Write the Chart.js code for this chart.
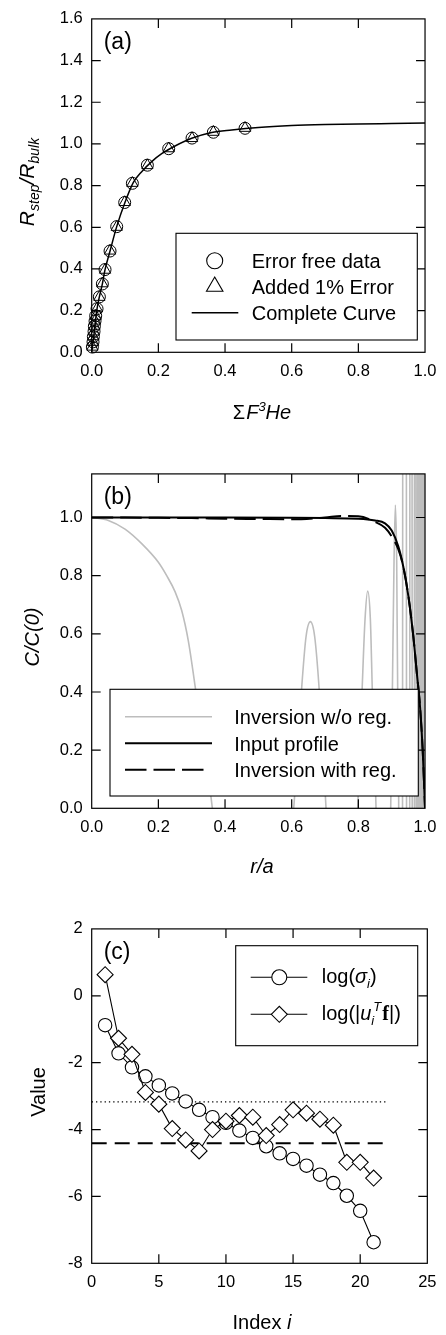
<!DOCTYPE html>
<html><head><meta charset="utf-8">
<script src="https://cdn.jsdelivr.net/npm/chart.js@4/dist/chart.umd.min.js"></script>
<style>
html,body{margin:0;padding:0;background:#fff;}
body{width:446px;height:1335px;position:relative;overflow:hidden;}
canvas{position:absolute;left:0;}
</style></head><body>
<canvas id="ca" width="446" height="455" style="top:0px"></canvas>
<canvas id="cb" width="446" height="455" style="top:455px"></canvas>
<canvas id="cc" width="446" height="425" style="top:910px"></canvas>
<script>
// ---------- Panel (a) ----------
const aTickX = [0, 0.2, 0.4, 0.6, 0.8, 1.0];
const aTickXLabels = ['0.0', '0.2', '0.4', '0.6', '0.8', '1.0'];
const aTickY = [0, 0.2, 0.4, 0.6, 0.8, 1.0, 1.2, 1.4, 1.6];
const aTickYLabels = ['0.0', '0.2', '0.4', '0.6', '0.8', '1.0', '1.2', '1.4', '1.6'];
const aDataX = [0.002, 0.004, 0.005, 0.007, 0.008, 0.010, 0.012, 0.016, 0.023, 0.032, 0.040, 0.055, 0.075, 0.099, 0.122, 0.167, 0.231, 0.301, 0.365, 0.460];
const aErrorFree = [0.025, 0.05, 0.075, 0.10, 0.125, 0.15, 0.175, 0.209, 0.266, 0.328, 0.397, 0.486, 0.603, 0.719, 0.811, 0.898, 0.977, 1.028, 1.056, 1.075];
const aError1 = [0.026, 0.049, 0.076, 0.099, 0.126, 0.151, 0.174, 0.210, 0.265, 0.330, 0.395, 0.487, 0.601, 0.720, 0.812, 0.897, 0.978, 1.027, 1.057, 1.076];
const aCurveX = [0, 0.004, 0.008, 0.012, 0.016, 0.023, 0.032, 0.040, 0.055, 0.075, 0.10, 0.125, 0.15, 0.18, 0.21, 0.25, 0.30, 0.36, 0.42, 0.50, 0.60, 0.70, 0.80, 0.90, 1.0];
const aCurveY = [0, 0.05, 0.10, 0.16, 0.209, 0.266, 0.328, 0.397, 0.486, 0.603, 0.72, 0.815, 0.867, 0.915, 0.953, 0.99, 1.027, 1.055, 1.067, 1.079, 1.088, 1.093, 1.096, 1.098, 1.10];

// ---------- Panel (b) ----------
const bTickX = [0, 0.2, 0.4, 0.6, 0.8, 1.0];
const bTickXLabels = ['0.0', '0.2', '0.4', '0.6', '0.8', '1.0'];
const bTickY = [0, 0.2, 0.4, 0.6, 0.8, 1.0];
const bTickYLabels = ['0.0', '0.2', '0.4', '0.6', '0.8', '1.0'];
const bNoRegX = [0, 0.05, 0.1, 0.15, 0.2, 0.225, 0.25, 0.27, 0.29, 0.309, 0.335, 0.362, 0.42, 0.48, 0.54, 0.606, 0.629, 0.643, 0.656, 0.669, 0.683, 0.703, 0.73, 0.75, 0.775, 0.798, 0.811, 0.82, 0.828, 0.836, 0.842, 0.853, 0.865, 0.875, 0.887, 0.897, 0.902, 0.907, 0.911, 0.915, 0.918, 0.921, 0.926, 0.939, 0.950, 0.958, 0.965, 0.971, 0.976, 0.980, 0.984, 0.987, 0.990, 0.992, 0.994, 0.996, 0.998, 1.0];
const bNoRegY = [1.0, 0.99, 0.96, 0.91, 0.846, 0.80, 0.745, 0.68, 0.575, 0.43, 0.22, 0, -0.7, -1.0, -0.7, 0, 0.40, 0.59, 0.642, 0.59, 0.40, 0, -0.6, -0.8, -0.6, 0, 0.40, 0.65, 0.747, 0.65, 0.40, 0, -0.7, -0.8, -0.6, 0, 0.40, 0.85, 1.043, 0.85, 0.40, 0, -10, 10, -10, 10, -10, 10, -10, 10, -10, 10, -10, 10, -10, 10, -10, 10];
const bInputX = [0, 0.2, 0.4, 0.6, 0.7, 0.8, 0.85, 0.88, 0.90, 0.92, 0.935, 0.95, 0.965, 0.975, 0.985, 0.993, 1.0];
const bInputY = [1.0, 1.0, 1.0, 0.999, 0.998, 0.996, 0.99, 0.98, 0.955, 0.90, 0.83, 0.73, 0.59, 0.47, 0.35, 0.20, 0];
const bRegX = [0, 0.1, 0.2, 0.3, 0.4, 0.5, 0.6, 0.7, 0.75, 0.8, 0.85, 0.88, 0.90, 0.92, 0.935, 0.95, 0.965, 0.975, 0.985, 0.993, 1.0];
const bRegY = [1.0, 1.0, 0.999, 0.998, 0.996, 0.995, 0.994, 1.0, 1.005, 1.004, 0.985, 0.965, 0.935, 0.89, 0.83, 0.73, 0.59, 0.47, 0.35, 0.20, 0];

// ---------- Panel (c) ----------
const cTickX = [0, 5, 10, 15, 20, 25];
const cTickXLabels = ['0', '5', '10', '15', '20', '25'];
const cTickY = [-8, -6, -4, -2, 0, 2];
const cTickYLabels = ['-8', '-6', '-4', '-2', '0', '2'];
const cIndex = [1, 2, 3, 4, 5, 6, 7, 8, 9, 10, 11, 12, 13, 14, 15, 16, 17, 18, 19, 20, 21];
const cLogSigma = [-0.88, -1.72, -2.14, -2.41, -2.68, -2.92, -3.16, -3.41, -3.63, -3.80, -4.03, -4.25, -4.50, -4.71, -4.88, -5.08, -5.35, -5.60, -5.98, -6.43, -7.37];
const cLogUf = [0.63, -1.27, -1.75, -2.89, -3.24, -3.97, -4.31, -4.64, -4.00, -3.75, -3.58, -3.63, -4.18, -3.85, -3.41, -3.51, -3.69, -3.87, -4.98, -4.98, -5.45];
const cDottedX = [0, 22.1];
const cDottedY = [-3.17, -3.17];
const cDashedX = [0, 22.1];
const cDashedY = [-4.41, -4.41];

// ---------- helpers ----------
const SANS = "'Liberation Sans', Arial, Helvetica, sans-serif";
const SERIF = "'Liberation Serif', 'Times New Roman', serif";
const R = s => s + 'px ' + SANS;
const I = s => 'italic ' + s + 'px ' + SANS;
const xy = (xs, ys) => xs.map((x, i) => ({x: x, y: ys[i]}));

function drawRich(ctx, segs, x, y, align, rot) {
  ctx.save();
  ctx.translate(x, y);
  if (rot) ctx.rotate(rot);
  ctx.textBaseline = 'alphabetic';
  ctx.textAlign = 'left';
  let pen = 0; const items = [];
  let maxEnd = 0;
  segs.forEach(s => {
    ctx.font = s.f;
    const w = ctx.measureText(s.t).width;
    const px = pen + (s.dx || 0);
    items.push({s: s, x: px});
    if (!s.noAdv) pen = px + w;
    maxEnd = Math.max(maxEnd, px + w);
  });
  const total = Math.max(pen, maxEnd);
  const off = align === 'center' ? -total / 2 : 0;
  ctx.fillStyle = '#000';
  items.forEach(it => { ctx.font = it.s.f; ctx.fillText(it.s.t, it.x + off, it.s.dy || 0); });
  ctx.restore();
}

function drawSym(ctx, sym, mx, y) {
  ctx.save();
  ctx.strokeStyle = sym.color || '#000';
  ctx.lineWidth = sym.width || 1;
  if (sym.line) {
    ctx.setLineDash(sym.dash || []);
    ctx.beginPath(); ctx.moveTo(sym.line[0], y); ctx.lineTo(sym.line[1], y); ctx.stroke();
    ctx.setLineDash([]);
  }
  ctx.lineWidth = 1.1; ctx.strokeStyle = '#000'; ctx.fillStyle = '#fff';
  const r = sym.r || 8;
  if (sym.marker === 'circle') {
    ctx.beginPath(); ctx.arc(mx, y, r, 0, Math.PI * 2);
    if (sym.fill) ctx.fill(); ctx.stroke();
  } else if (sym.marker === 'triangle') {
    const h = Math.sin(Math.PI / 3) * r;
    ctx.beginPath(); ctx.moveTo(mx, y - r); ctx.lineTo(mx + h, y + r / 2); ctx.lineTo(mx - h, y + r / 2); ctx.closePath();
    if (sym.fill) ctx.fill(); ctx.stroke();
  } else if (sym.marker === 'diamond') {
    ctx.beginPath(); ctx.moveTo(mx - r, y); ctx.lineTo(mx, y - r); ctx.lineTo(mx + r, y); ctx.lineTo(mx, y + r); ctx.closePath();
    if (sym.fill) ctx.fill(); ctx.stroke();
  }
  ctx.restore();
}

function makeDecor(spec) {
  return {
    id: 'decor_' + spec.name,
    afterDatasetsDraw(chart) {
      const ctx = chart.ctx, ca = chart.chartArea, sx = chart.scales.x, sy = chart.scales.y;
      ctx.save();
      // inward tick marks on all four sides
      const TL = 9;
      ctx.strokeStyle = '#000'; ctx.lineWidth = 1.2;
      ctx.beginPath();
      sx.ticks.forEach(t => {
        const p = sx.getPixelForValue(t.value);
        if (p <= ca.left + 1 || p >= ca.right - 1) return;
        ctx.moveTo(p, ca.bottom); ctx.lineTo(p, ca.bottom - TL);
        ctx.moveTo(p, ca.top); ctx.lineTo(p, ca.top + TL);
      });
      sy.ticks.forEach(t => {
        const p = sy.getPixelForValue(t.value);
        if (p <= ca.top + 1 || p >= ca.bottom - 1) return;
        ctx.moveTo(ca.left, p); ctx.lineTo(ca.left + TL, p);
        ctx.moveTo(ca.right, p); ctx.lineTo(ca.right - TL, p);
      });
      ctx.stroke();
      // frame
      ctx.strokeRect(ca.left, ca.top, ca.right - ca.left, ca.bottom - ca.top);
      // legend box
      const L = spec.legend;
      ctx.fillStyle = '#fff';
      ctx.fillRect(L.x1, L.y1, L.x2 - L.x1, L.y2 - L.y1);
      ctx.strokeStyle = '#000'; ctx.lineWidth = 1.1;
      ctx.strokeRect(L.x1, L.y1, L.x2 - L.x1, L.y2 - L.y1);
      L.rows.forEach(row => {
        drawSym(ctx, row.sym, L.mx, row.y);
        drawRich(ctx, row.text, L.tx, row.y + row.base, 'left', 0);
      });
      // panel label
      ctx.fillStyle = '#000'; ctx.font = R(23); ctx.textBaseline = 'alphabetic'; ctx.textAlign = 'left';
      ctx.fillText(spec.label, ca.left + 12, ca.top + 30);
      // axis titles
      drawRich(ctx, spec.xTitle, 262, spec.xTitleY, 'center', 0);
      drawRich(ctx, spec.yTitle, spec.yTitleX, 182, 'center', -Math.PI / 2);
      ctx.restore();
    }
  };
}

function makeChart(id, top, bottom, xs, ys, datasets, spec) {
  const cv = document.getElementById(id);
  const H = cv.height;
  return new Chart(cv, {
    type: 'scatter',
    data: {datasets: datasets},
    options: {
      responsive: false, animation: false, events: [],
      layout: {padding: {left: 0, right: 446 - 432.3, top: top, bottom: 0}},
      plugins: {legend: {display: false}, tooltip: {enabled: false}},
      scales: {
        x: {
          type: 'linear', min: xs.min, max: xs.max,
          grid: {display: false, drawTicks: false}, border: {display: false},
          afterBuildTicks: s => { s.ticks = xs.ticks.map(v => ({value: v})); },
          afterFit: s => { s.height = H - bottom; },
          ticks: {padding: 9.5, color: '#000', font: {family: SANS, size: 16.5}, maxRotation: 0, autoSkip: false,
                  callback: (v, i) => xs.labels[i]}
        },
        y: {
          type: 'linear', min: ys.min, max: ys.max,
          grid: {display: false, drawTicks: false}, border: {display: false},
          afterBuildTicks: s => { s.ticks = ys.ticks.map(v => ({value: v})); },
          afterFit: s => { s.width = 91.7; },
          ticks: {padding: 9, color: '#000', font: {family: SANS, size: 16.5}, autoSkip: false,
                  callback: (v, i) => ys.labels[i]}
        }
      }
    },
    plugins: [makeDecor(spec)]
  });
}

// ---------- Chart (a) ----------
makeChart('ca', 12.3, 352.3,
  {min: 0, max: 1, ticks: aTickX, labels: aTickXLabels},
  {min: 0, max: 1.6, ticks: aTickY, labels: aTickYLabels},
  [
    {data: xy(aDataX, aError1), showLine: false, pointStyle: 'triangle', pointRadius: 6.5, pointBorderWidth: 1,
     pointBorderColor: '#000', pointBackgroundColor: 'rgba(0,0,0,0)', clip: false, order: 1},
    {data: xy(aDataX, aErrorFree), showLine: false, pointStyle: 'circle', pointRadius: 6, pointBorderWidth: 1,
     pointBorderColor: '#000', pointBackgroundColor: 'rgba(0,0,0,0)', clip: false, order: 2},
    {data: xy(aCurveX, aCurveY), showLine: true, borderColor: '#000', borderWidth: 1.5, pointRadius: 0,
     cubicInterpolationMode: 'monotone', clip: false, order: 3}
  ],
  {name: 'a', label: '(a)',
   legend: {x1: 176, y1: 233.3, x2: 417.3, y2: 340, mx: 214.7, tx: 251.7,
     rows: [
       {y: 260.8, base: 7, sym: {marker: 'circle', r: 8}, text: [{t: 'Error free data', f: R(20)}]},
       {y: 286.5, base: 7, sym: {marker: 'triangle', r: 9.5}, text: [{t: 'Added 1% Error', f: R(20)}]},
       {y: 312.7, base: 7, sym: {line: [191.7, 238.3], width: 1.5}, text: [{t: 'Complete Curve', f: R(20)}]}
     ]},
   xTitle: [{t: 'Σ', f: R(20)}, {t: 'F', f: I(20), dx: 1}, {t: '3', f: I(13), dy: -8}, {t: 'He', f: I(20)}],
   xTitleY: 419,
   yTitle: [{t: 'R', f: I(21)}, {t: 'step', f: I(14), dy: 5}, {t: '/R', f: I(21)}, {t: 'bulk', f: I(14), dy: 5}],
   yTitleX: 34});

// ---------- Chart (b) ----------
makeChart('cb', 11.7, 353.3,
  {min: 0, max: 1, ticks: bTickX, labels: bTickXLabels},
  {min: 0, max: 1.15, ticks: bTickY, labels: bTickYLabels},
  [
    {data: xy(bNoRegX, bNoRegY), showLine: true, borderColor: '#bdbdbd', borderWidth: 1.6, pointRadius: 0,
     cubicInterpolationMode: 'monotone', order: 3},
    {data: xy(bInputX, bInputY), showLine: true, borderColor: '#000', borderWidth: 2, pointRadius: 0,
     cubicInterpolationMode: 'monotone', order: 2},
    {data: xy(bRegX, bRegY), showLine: true, borderColor: '#000', borderWidth: 2, borderDash: [21.5, 7], pointRadius: 0,
     cubicInterpolationMode: 'monotone', order: 1}
  ],
  {name: 'b', label: '(b)',
   legend: {x1: 110, y1: 234.3, x2: 418.3, y2: 341, mx: 0, tx: 234.3,
     rows: [
       {y: 261.7, base: 7.5, sym: {line: [125, 212], color: '#bdbdbd', width: 1.6}, text: [{t: 'Inversion w/o reg.', f: R(20)}]},
       {y: 288.3, base: 7.5, sym: {line: [125, 212], width: 2}, text: [{t: 'Input profile', f: R(20)}]},
       {y: 314.7, base: 7.5, sym: {line: [125, 204], width: 2, dash: [21.5, 7]}, text: [{t: 'Inversion with reg.', f: R(20)}]}
     ]},
   xTitle: [{t: 'r/a', f: I(20)}],
   xTitleY: 418,
   yTitle: [{t: 'C/C(0)', f: I(20)}],
   yTitleX: 39});

// ---------- Chart (c) ----------
makeChart('cc', 11.7, 353.3,
  {min: 0, max: 25, ticks: cTickX, labels: cTickXLabels},
  {min: -8, max: 2, ticks: cTickY, labels: cTickYLabels},
  [
    {data: xy(cDottedX, cDottedY), showLine: true, borderColor: '#000', borderWidth: 1.3, borderDash: [1.3, 3], pointRadius: 0, order: 5},
    {data: xy(cDashedX, cDashedY), showLine: true, borderColor: '#000', borderWidth: 2, borderDash: [15, 8], pointRadius: 0, order: 4},
    {data: xy(cIndex, cLogSigma), showLine: true, borderColor: '#000', borderWidth: 1.1, pointStyle: 'circle', pointRadius: 6.7,
     pointBorderWidth: 1.1, pointBorderColor: '#000', pointBackgroundColor: '#fff', order: 2},
    {data: xy(cIndex, cLogUf), showLine: true, borderColor: '#000', borderWidth: 1.1, pointStyle: 'rectRot', pointRadius: 8,
     pointBorderWidth: 1.1, pointBorderColor: '#000', pointBackgroundColor: '#fff', order: 1}
  ],
  {name: 'c', label: '(c)',
   legend: {x1: 235.7, y1: 35.7, x2: 417.7, y2: 135.7, mx: 279.3, tx: 321.7,
     rows: [
       {y: 67.3, base: 6, sym: {line: [250.7, 307.3], width: 1.1, marker: 'circle', r: 7.5, fill: true},
        text: [{t: 'log(', f: R(20)}, {t: 'σ', f: I(20)}, {t: 'i', f: I(13), dy: 5}, {t: ')', f: R(20)}]},
       {y: 104.3, base: 6, sym: {line: [250.7, 307.3], width: 1.1, marker: 'diamond', r: 8, fill: true},
        text: [{t: 'log(|', f: R(20)}, {t: 'u', f: I(20)}, {t: 'i', f: I(13), dy: 5, noAdv: true},
               {t: 'T', f: I(13), dy: -9, dx: 2}, {t: 'f', f: 'bold 20px ' + SERIF, dx: 1}, {t: '|)', f: R(20)}]}
     ]},
   xTitle: [{t: 'Index ', f: R(20)}, {t: 'i', f: I(20)}],
   xTitleY: 419,
   yTitle: [{t: 'Value', f: R(20)}],
   yTitleX: 45});
</script>
</body></html>
